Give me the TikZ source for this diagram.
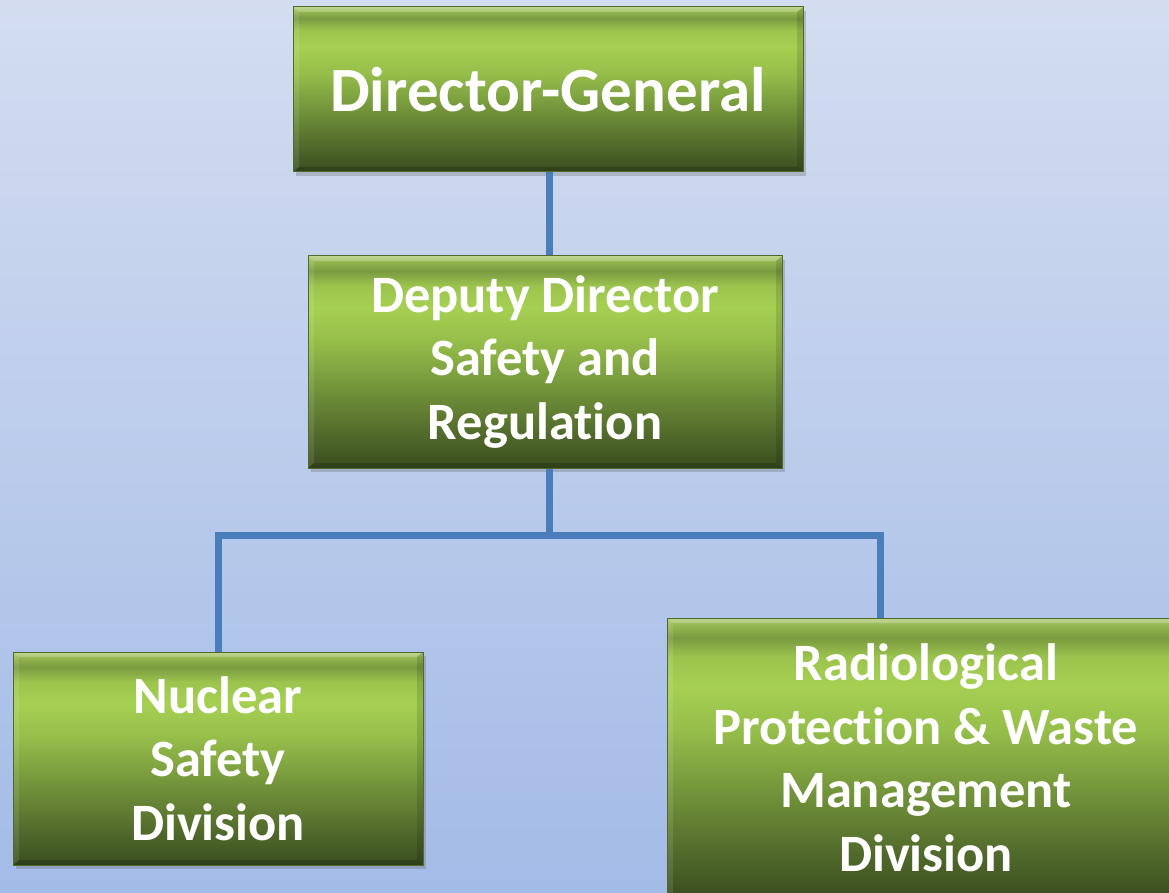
\documentclass[tikz,border=0pt]{standalone}
\usepackage{fontspec}
\setmainfont{Carlito}[Ligatures=NoCommon]
\usetikzlibrary{shadows}

% palette
\definecolor{bgtop}{HTML}{D4DDF0}
\definecolor{bgbot}{HTML}{A3BBE7}
\definecolor{wire}{HTML}{4A7EBB}
\definecolor{edgegreen}{HTML}{4F6A2A}
\definecolor{gA}{HTML}{3A4D1E}
\definecolor{gB}{HTML}{4E662A}
\definecolor{gC}{HTML}{76983C}
\definecolor{gD}{HTML}{96BE4A}
\definecolor{gE}{HTML}{A6D052}
\definecolor{gF}{HTML}{9CC44E}
\definecolor{gG}{HTML}{7A9A40}
\definecolor{gH}{HTML}{92B44E}
\definecolor{gI}{HTML}{ADCB70}

% green bevelled fill, bottom (25bp) to top (75bp)
\pgfdeclareverticalshading{greenbevel}{100bp}{%
  color(0bp)=(gA); color(25bp)=(gA);
  color(32bp)=(gB); color(45bp)=(gC); color(55bp)=(gD);
  color(63bp)=(gE); color(68bp)=(gF); color(71.5bp)=(gG);
  color(73.5bp)=(gH); color(75bp)=(gI); color(100bp)=(gI)}

% soft edge facets along the sides of a box
\newcommand\boxfacets{%
  \fill[white,opacity=0.22]
    (path picture bounding box.north west) -- (path picture bounding box.north east)
    -- ([xshift=-6pt,yshift=-5pt]path picture bounding box.north east)
    -- ([xshift=6pt,yshift=-5pt]path picture bounding box.north west) -- cycle;
  \fill[white,opacity=0.10]
    (path picture bounding box.north west) -- ([xshift=6pt,yshift=-5pt]path picture bounding box.north west)
    -- ([xshift=6pt,yshift=5pt]path picture bounding box.south west)
    -- (path picture bounding box.south west) -- cycle;
  \fill[black,opacity=0.12]
    (path picture bounding box.north east) -- ([xshift=-6pt,yshift=-5pt]path picture bounding box.north east)
    -- ([xshift=-6pt,yshift=5pt]path picture bounding box.south east)
    -- (path picture bounding box.south east) -- cycle;
  \fill[black,opacity=0.18]
    (path picture bounding box.south west) -- ([xshift=6pt,yshift=5pt]path picture bounding box.south west)
    -- ([xshift=-6pt,yshift=5pt]path picture bounding box.south east)
    -- (path picture bounding box.south east) -- cycle;
}

\tikzset{
  orgbox/.style={draw=edgegreen, line width=1pt, shading=greenbevel,
    text=white, font=\bfseries, align=center, inner sep=0pt,
    drop shadow={shadow xshift=3pt, shadow yshift=-4pt, opacity=0.3, fill=black!60},
    path picture={\boxfacets}},
  bigtext/.style={font=\bfseries\fontsize{63}{75}\selectfont},
  bodytext/.style={font=\bfseries\fontsize{52.5}{63.5}\selectfont},
  wireline/.style={draw=wire, line width=7pt},
}

\begin{document}
\begin{tikzpicture}[x=1pt, y=-1pt]
  \useasboundingbox (0,0) rectangle (1169,893);
  \clip (0,0) rectangle (1169,893);
  \fill[top color=bgtop, bottom color=bgbot] (0,0) rectangle (1169,893);

  % organisation boxes
  \node[orgbox, bigtext, minimum width=510pt, minimum height=165pt] (dg) at (548,89.5)
    {Director-General};
  \node[orgbox, bodytext, minimum width=474pt, minimum height=212pt] (dd) at (545,362)
    {Deputy Director\\Safety and\\Regulation};
  \node[orgbox, bodytext, minimum width=410pt, minimum height=213pt] (ns) at (218,758.5)
    {Nuclear\\Safety\\Division};
  \node[orgbox, bodytext, minimum width=518pt, minimum height=280pt] (rp) at (926,758)
    {Radiological\\Protection \& Waste\\Management\\Division};

  % reporting lines
  \coordinate (join) at (549,535);
  \coordinate (tap) at (880,535);
  \draw[wireline] (dg.south -| join) -- (dd.north -| join);
  \draw[wireline] (dd.south -| join) -- (join);
  \draw[wireline] (ns.north) |- (join);
  \draw[wireline] (join) -- (tap) -- (tap |- rp.north);
\end{tikzpicture}
\end{document}
